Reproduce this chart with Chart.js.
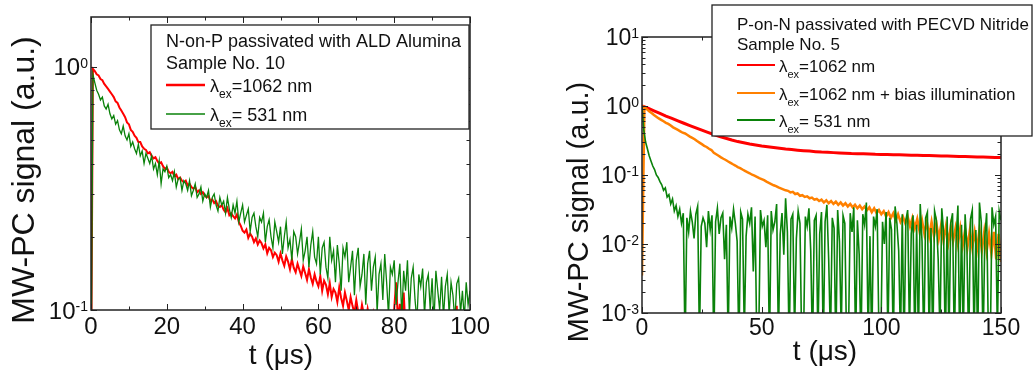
<!DOCTYPE html>
<html>
<head>
<meta charset="utf-8">
<script src="https://cdn.jsdelivr.net/npm/chart.js@4.4.1/dist/chart.umd.min.js"></script>
<style>
  body { margin: 0; background: #fff; }
  #left { position: absolute; left: 0; top: 0; }
  #right { position: absolute; left: 540px; top: 0; }
</style>
</head>
<body>
<canvas id="left" width="540" height="376"></canvas>
<canvas id="right" width="495" height="376"></canvas>
<script>
// ---- data ----
// left panel: N-on-P, ALD alumina, sampled every 0.5 us
let leftStep = 0.5;
let leftRed1062 = [
  0.04, 0.98, 0.96, 0.93, 0.92, 0.89, 0.88, 0.85, 0.83, 0.81,
  0.79, 0.77, 0.75, 0.72, 0.71, 0.68, 0.66, 0.64, 0.62, 0.59,
  0.58, 0.55, 0.54, 0.52, 0.51, 0.49, 0.49, 0.47, 0.46, 0.455,
  0.44, 0.445, 0.43, 0.42, 0.425, 0.41, 0.4, 0.405, 0.39, 0.38,
  0.385, 0.37, 0.365, 0.37, 0.355, 0.36, 0.345, 0.35, 0.34, 0.335,
  0.34, 0.325, 0.33, 0.32, 0.315, 0.32, 0.305, 0.31, 0.3, 0.305,
  0.295, 0.29, 0.295, 0.28, 0.285, 0.275, 0.28, 0.268, 0.265, 0.27,
  0.258, 0.252, 0.262, 0.245, 0.25, 0.243, 0.238, 0.247, 0.23, 0.222,
  0.212, 0.208, 0.214, 0.198, 0.206, 0.2, 0.19, 0.197, 0.186, 0.193,
  0.188, 0.179, 0.186, 0.171, 0.18, 0.176, 0.165, 0.172, 0.168, 0.158,
  0.171, 0.16, 0.152, 0.166, 0.158, 0.147, 0.162, 0.149, 0.143, 0.155,
  0.146, 0.138, 0.151, 0.142, 0.133, 0.147, 0.136, 0.128, 0.14, 0.131,
  0.125, 0.138, 0.12, 0.132, 0.127, 0.116, 0.129, 0.113, 0.122, 0.118,
  0.108, 0.124, 0.112, 0.104, 0.118, 0.109, 0.1, 0.113, 0.104, 0.097,
  0.11, 0.098, 0.093, 0.105, 0.096, 0.089, 0.101, 0.092, 0.086, 0.097,
  0.089, 0.085, 0.094, 0.084, 0.08, 0.091, 0.082, 0.086, 0.095, 0.081,
  0.101, 0.13, 0.09, 0.106, 0.085, 0.118, 0.083, 0.088, 0.08, 0.086,
  0.078, 0.084, 0.077, 0.083, 0.076, 0.081, 0.074, 0.08, 0.073, 0.079,
  0.072, 0.078, 0.071, 0.077, 0.07, 0.076, 0.069, 0.075, 0.068, 0.074,
  0.067, 0.073, 0.066, 0.104, 0.065, 0.071, 0.064, 0.07, 0.063, 0.069,
  0.062
];
let leftGreen531 = [
  0.04, 0.93, 0.86, 0.8, 0.77, 0.73, 0.75, 0.69, 0.67, 0.7,
  0.64, 0.61, 0.63, 0.58, 0.6, 0.55, 0.53, 0.57, 0.52, 0.5,
  0.53, 0.47, 0.49, 0.46, 0.44, 0.48, 0.43, 0.45, 0.4, 0.44,
  0.42, 0.4, 0.43, 0.38, 0.4, 0.36, 0.41, 0.33, 0.38, 0.37,
  0.39, 0.35, 0.36, 0.34, 0.37, 0.32, 0.345, 0.35, 0.31, 0.34,
  0.33, 0.31, 0.34, 0.295, 0.31, 0.33, 0.29, 0.3, 0.32, 0.28,
  0.3, 0.29, 0.31, 0.265, 0.29, 0.3, 0.27, 0.255, 0.29, 0.27,
  0.28, 0.25, 0.29, 0.26, 0.24, 0.27, 0.25, 0.28, 0.23, 0.25,
  0.27, 0.23, 0.245, 0.26, 0.21, 0.24, 0.25, 0.22, 0.2, 0.24,
  0.23, 0.25, 0.19, 0.22, 0.235, 0.2, 0.18, 0.23, 0.21, 0.19,
  0.22, 0.17, 0.2, 0.23, 0.18, 0.195, 0.16, 0.21, 0.2, 0.17,
  0.19, 0.215, 0.16, 0.175, 0.2, 0.15, 0.185, 0.21, 0.165, 0.155,
  0.2, 0.14, 0.18, 0.19, 0.15, 0.135, 0.2, 0.16, 0.175, 0.13,
  0.185, 0.155, 0.12, 0.18, 0.165, 0.19, 0.13, 0.15, 0.175, 0.115,
  0.16, 0.18, 0.125, 0.14, 0.17, 0.105, 0.155, 0.175, 0.12, 0.15,
  0.165, 0.098, 0.14, 0.155, 0.11, 0.17, 0.13, 0.095, 0.15, 0.14,
  0.16, 0.105, 0.13, 0.155, 0.093, 0.145, 0.12, 0.16, 0.097, 0.135,
  0.15, 0.11, 0.09, 0.14, 0.125, 0.148, 0.095, 0.13, 0.14, 0.1,
  0.135, 0.088, 0.145, 0.12, 0.1, 0.137, 0.093, 0.125, 0.14, 0.096,
  0.13, 0.115, 0.09, 0.128, 0.135, 0.097, 0.12, 0.092, 0.13, 0.105,
  0.12
];

// right panel: P-on-N, PECVD nitride
let rightRedStep = 2.5;
let rightRed1062 = [
  1.0, 0.93, 0.852, 0.782, 0.712, 0.661, 0.608, 0.562, 0.521, 0.482,
  0.446, 0.414, 0.386, 0.361, 0.341, 0.321, 0.305, 0.293, 0.282, 0.273,
  0.264, 0.257, 0.25, 0.244, 0.238, 0.234, 0.229, 0.225, 0.222, 0.218,
  0.215, 0.213, 0.211, 0.209, 0.207, 0.205, 0.204, 0.203, 0.202, 0.2,
  0.199, 0.198, 0.197, 0.196, 0.195, 0.194, 0.193, 0.192, 0.191, 0.19,
  0.189, 0.188, 0.187, 0.186, 0.185, 0.184, 0.183, 0.182, 0.181, 0.18,
  0.179
];
let rightOrangeStep = 1;
let rightOrangeBias = [
  0.0035, 0.96, 0.9, 0.84, 0.79, 0.74, 0.7, 0.66, 0.63, 0.6,
  0.57, 0.55, 0.52, 0.49, 0.47, 0.45, 0.43, 0.41, 0.4, 0.38,
  0.36, 0.345, 0.33, 0.31, 0.295, 0.28, 0.265, 0.255, 0.24, 0.23,
  0.21, 0.2, 0.19, 0.18, 0.172, 0.165, 0.157, 0.15, 0.143, 0.137,
  0.13, 0.126, 0.12, 0.115, 0.11, 0.106, 0.101, 0.098, 0.094, 0.09,
  0.087, 0.084, 0.08, 0.077, 0.074, 0.071, 0.069, 0.066, 0.064, 0.062,
  0.06, 0.059, 0.056, 0.057, 0.053, 0.054, 0.05, 0.051, 0.048, 0.049,
  0.046, 0.047, 0.044, 0.045, 0.042, 0.044, 0.04, 0.043, 0.039, 0.042,
  0.038, 0.041, 0.037, 0.04, 0.036, 0.039, 0.035, 0.038, 0.034, 0.037,
  0.033, 0.036, 0.032, 0.035, 0.031, 0.034, 0.029, 0.033, 0.028, 0.031,
  0.027, 0.03, 0.025, 0.029, 0.024, 0.028, 0.022, 0.027, 0.021, 0.025,
  0.02, 0.025, 0.018, 0.024, 0.017, 0.023, 0.015, 0.022, 0.014, 0.021,
  0.013, 0.021, 0.013, 0.02, 0.012, 0.019, 0.011, 0.018, 0.0105, 0.018,
  0.011, 0.017, 0.01, 0.017, 0.0095, 0.016, 0.009, 0.016, 0.0088, 0.015,
  0.0085, 0.016, 0.008, 0.015, 0.0078, 0.014, 0.0072, 0.015, 0.006, 0.014,
  0.0055
];
let rightGreenStep = 0.75;
let rightGreen531 = [
  1.0, 0.45, 0.3, 0.24, 0.19, 0.16, 0.135, 0.12, 0.1, 0.092,
  0.08, 0.072, 0.06, 0.065, 0.048, 0.052, 0.038, 0.045, 0.03, 0.036,
  0.025, 0.032, 0.02, 0.028, 0.0003, 0.024, 0.015, 0.03, 0.021, 0.012,
  0.027, 0.035, 0.0004, 0.018, 0.024, 0.02, 0.009, 0.03, 0.016, 0.026,
  0.0003, 0.021, 0.033, 0.014, 0.024, 0.028, 0.006, 0.019, 0.0004, 0.025,
  0.017, 0.032, 0.02, 0.011, 0.0003, 0.029, 0.023, 0.0005, 0.013, 0.027,
  0.02, 0.034, 0.004, 0.025, 0.0003, 0.0004, 0.031, 0.018, 0.022, 0.009,
  0.026, 0.0003, 0.03, 0.016, 0.021, 0.038, 0.0004, 0.014, 0.028, 0.007,
  0.046, 0.015, 0.0003, 0.023, 0.027, 0.0005, 0.012, 0.03, 0.02, 0.0003,
  0.0004, 0.025, 0.018, 0.033, 0.008, 0.0003, 0.022, 0.026, 0.0004, 0.014,
  0.029, 0.0003, 0.021, 0.037, 0.006, 0.0004, 0.024, 0.017, 0.0003, 0.031,
  0.011, 0.0005, 0.026, 0.02, 0.0003, 0.0004, 0.028, 0.015, 0.034, 0.0003,
  0.022, 0.007, 0.0003, 0.027, 0.019, 0.04, 0.0004, 0.013, 0.0003, 0.025,
  0.018, 0.032, 0.0005, 0.0003, 0.021, 0.01, 0.029, 0.0004, 0.024, 0.016,
  0.0003, 0.035, 0.02, 0.008, 0.0004, 0.027, 0.0003, 0.022, 0.031, 0.0005,
  0.014, 0.026, 0.0003, 0.019, 0.0004, 0.038, 0.011, 0.0003, 0.024, 0.029,
  0.0004, 0.017, 0.0003, 0.03, 0.022, 0.006, 0.0005, 0.033, 0.015, 0.0003,
  0.025, 0.0004, 0.02, 0.028, 0.0003, 0.012, 0.036, 0.0003, 0.019, 0.0004,
  0.027, 0.009, 0.0003, 0.023, 0.031, 0.0004, 0.016, 0.0003, 0.04, 0.021,
  0.0003, 0.013, 0.028, 0.0004, 0.0003, 0.034, 0.019, 0.025, 0.0005, 0.03,
  0.022
];

// ticks
let leftXTicks = [0, 20, 40, 60, 80, 100];
let leftXMinor = [10, 30, 50, 70, 90];
let leftYTicks = [0.1, 1];
let leftYExp = ['-1', '0'];
let leftYMinor = [0.2, 0.3, 0.4, 0.5, 0.6, 0.7, 0.8, 0.9];

let rightXTicks = [0, 50, 100, 150];
let rightXMinor = [25, 75, 125];
let rightYTicks = [0.001, 0.01, 0.1, 1, 10];
let rightYExp = ['-3', '-2', '-1', '0', '1'];
let rightYMinor = [];
rightYTicks.slice(0, -1).forEach(d => {
  for (let k = 2; k <= 9; k++) rightYMinor.push(+(k * d).toPrecision(2));
});

// legend text
let leftTitles = ['N-on-P passivated with ALD Alumina', 'Sample No. 10'];
let leftLabels = ['=1062 nm', '= 531 nm'];
let rightTitles = ['P-on-N passivated with PECVD Nitride', 'Sample No. 5'];
let rightLabels = ['=1062 nm', '=1062 nm + bias illumination', '= 531 nm'];

let yTitle = 'MW-PC signal (a.u.)';
let xTitle = 't (\u03bcs)';

let RED = '#ff0000', GREEN = '#0a820a', ORANGE = '#ff8000';
let FONT = "'Liberation Sans', Arial, Helvetica, sans-serif";
let INK = '#111';

function pts(values, step) {
  return values.map((v, i) => ({ x: i * step, y: v }));
}

function drawLegend(ctx, b) {
  ctx.fillStyle = '#fff';
  ctx.fillRect(b.x0, b.y0, b.x1 - b.x0, b.y1 - b.y0);
  ctx.strokeStyle = '#222';
  ctx.lineWidth = 1.3;
  ctx.strokeRect(b.x0, b.y0, b.x1 - b.x0, b.y1 - b.y0);
  ctx.fillStyle = INK;
  ctx.textAlign = 'left';
  ctx.textBaseline = 'alphabetic';
  ctx.font = b.size + 'px ' + FONT;
  b.titles.forEach((t, i) => ctx.fillText(t, b.textX, b.titleY[i] + b.size * 0.36));
  b.labels.forEach((lab, i) => {
    let y = b.rowY[i];
    ctx.strokeStyle = b.colors[i];
    ctx.lineWidth = b.widths[i];
    ctx.beginPath();
    ctx.moveTo(b.textX, y);
    ctx.lineTo(b.lineEnd, y);
    ctx.stroke();
    let base = y + 1 + b.size * 0.36;
    ctx.font = b.size + 'px ' + FONT;
    ctx.fillText('\u03bb', b.lamX, base);
    let w = ctx.measureText('\u03bb').width;
    ctx.font = b.sub + 'px ' + FONT;
    ctx.fillText('ex', b.lamX + w, base + b.size * 0.33);
    let w2 = ctx.measureText('ex').width;
    ctx.font = b.size + 'px ' + FONT;
    ctx.fillText(lab, b.lamX + w + w2, base);
  });
}

function makeDecor(c) {
  return {
    id: 'decor' + c.name,
    afterDraw(chart) {
      let ctx = chart.ctx;
      let a = chart.chartArea;
      let xs = chart.scales.x, ys = chart.scales.y;
      ctx.save();
      // frame
      ctx.strokeStyle = '#222';
      ctx.lineWidth = 1.5;
      ctx.strokeRect(a.left, a.top, a.right - a.left, a.bottom - a.top);
      // inward ticks on all four sides
      ctx.lineWidth = 1;
      ctx.beginPath();
      let xt = (list, len) => list.forEach(v => {
        let p = Math.round(xs.getPixelForValue(v)) + 0.5;
        ctx.moveTo(p, a.bottom); ctx.lineTo(p, a.bottom - len);
        ctx.moveTo(p, a.top); ctx.lineTo(p, a.top + len);
      });
      let yt = (list, len) => list.forEach(v => {
        let p = Math.round(ys.getPixelForValue(v)) + 0.5;
        ctx.moveTo(a.left, p); ctx.lineTo(a.left + len, p);
        ctx.moveTo(a.right, p); ctx.lineTo(a.right - len, p);
      });
      xt(c.xMajor, 6); xt(c.xMinor, 3.5);
      yt(c.yMajor, 6); yt(c.yMinor, 3.5);
      ctx.stroke();

      // y tick labels 10^n
      ctx.fillStyle = INK;
      ctx.textAlign = 'left';
      ctx.textBaseline = 'alphabetic';
      c.yMajor.forEach((v, i) => {
        let py = ys.getPixelForValue(v);
        ctx.font = c.tick + 'px ' + FONT;
        let w1 = ctx.measureText('10').width;
        ctx.font = c.sup + 'px ' + FONT;
        let w2 = ctx.measureText(c.yExp[i]).width;
        let x0 = a.left - 3 - w1 - w2;
        let base = py + c.tick * 0.36;
        ctx.font = c.tick + 'px ' + FONT;
        ctx.fillText('10', x0, base);
        ctx.font = c.sup + 'px ' + FONT;
        ctx.fillText(c.yExp[i], x0 + w1, base - c.tick * 0.3);
      });

      // axis titles
      ctx.textAlign = 'center';
      ctx.textBaseline = 'middle';
      ctx.font = c.xTitleSize + 'px ' + FONT;
      ctx.fillText(xTitle, c.xTitlePos[0], c.xTitlePos[1]);
      ctx.save();
      ctx.translate(c.yTitlePos[0], c.yTitlePos[1]);
      ctx.rotate(-Math.PI / 2);
      ctx.font = c.yTitleSize + 'px ' + FONT;
      ctx.fillText(yTitle, 0, 0);
      ctx.restore();

      drawLegend(ctx, c.legend);
      ctx.restore();
    }
  };
}

function lineSet(values, step, color, width, order) {
  return {
    data: pts(values, step),
    borderColor: color,
    borderWidth: width,
    pointRadius: 0,
    tension: 0,
    fill: false,
    order: order
  };
}

function makeChart(id, c) {
  return new Chart(document.getElementById(id), {
    type: 'line',
    data: { datasets: c.datasets },
    options: {
      responsive: false,
      animation: false,
      events: [],
      layout: { padding: c.padding },
      plugins: { legend: { display: false }, tooltip: { enabled: false } },
      scales: {
        x: {
          type: 'linear',
          min: c.xMin, max: c.xMax,
          grid: { display: false, drawTicks: false },
          border: { display: false },
          ticks: { font: { family: FONT, size: c.tick }, color: INK, padding: c.xPad, maxRotation: 0, autoSkip: false },
          afterBuildTicks: s => { s.ticks = c.xMajor.map(v => ({ value: v })); },
          afterFit: s => { s.height = c.xHeight; }
        },
        y: {
          type: 'logarithmic',
          min: c.yMin, max: c.yMax,
          grid: { display: false, drawTicks: false },
          border: { display: false },
          ticks: { display: false },
          afterFit: s => { s.width = c.yWidth; }
        }
      }
    },
    plugins: [makeDecor(c)]
  });
}

makeChart('left', {
  name: 'L',
  datasets: [
    lineSet(leftRed1062, leftStep, RED, 2, 2),
    lineSet(leftGreen531, leftStep, GREEN, 1.3, 1)
  ],
  padding: { left: 0, top: 17, right: 70, bottom: 0 },
  xMin: 0, xMax: 100, yMin: 0.1, yMax: 1.6,
  xHeight: 66, yWidth: 91, xPad: 3,
  xMajor: leftXTicks, xMinor: leftXMinor,
  yMajor: leftYTicks, yMinor: leftYMinor, yExp: leftYExp,
  tick: 24, sup: 14,
  xTitleSize: 28, xTitlePos: [281, 356],
  yTitleSize: 32, yTitlePos: [25, 180],
  legend: {
    x0: 151, y0: 25, x1: 469, y1: 129,
    size: 18, sub: 12,
    textX: 166, lineEnd: 205, lamX: 210,
    titles: leftTitles, titleY: [41, 62.5],
    labels: leftLabels, rowY: [85, 114],
    colors: [RED, GREEN], widths: [2.5, 1.5]
  }
});

makeChart('right', {
  name: 'R',
  datasets: [
    lineSet(rightRed1062, rightRedStep, RED, 3, 3),
    lineSet(rightOrangeBias, rightOrangeStep, ORANGE, 2.5, 2),
    lineSet(rightGreen531, rightGreenStep, GREEN, 1.6, 1)
  ],
  padding: { left: 0, top: 37, right: 34, bottom: 0 },
  xMin: 0, xMax: 150, yMin: 0.001, yMax: 10,
  xHeight: 63, yWidth: 102, xPad: 2,
  xMajor: rightXTicks, xMinor: rightXMinor,
  yMajor: rightYTicks, yMinor: rightYMinor, yExp: rightYExp,
  tick: 23, sup: 14,
  xTitleSize: 28, xTitlePos: [285, 352],
  yTitleSize: 29, yTitlePos: [40, 212],
  legend: {
    x0: 172, y0: 5, x1: 492, y1: 136,
    size: 17, sub: 11,
    textX: 197, lineEnd: 235, lamX: 239,
    titles: rightTitles, titleY: [23.5, 44],
    labels: rightLabels, rowY: [65, 93, 120],
    colors: [RED, ORANGE, GREEN], widths: [2, 2, 2]
  }
});
</script>
</body>
</html>
